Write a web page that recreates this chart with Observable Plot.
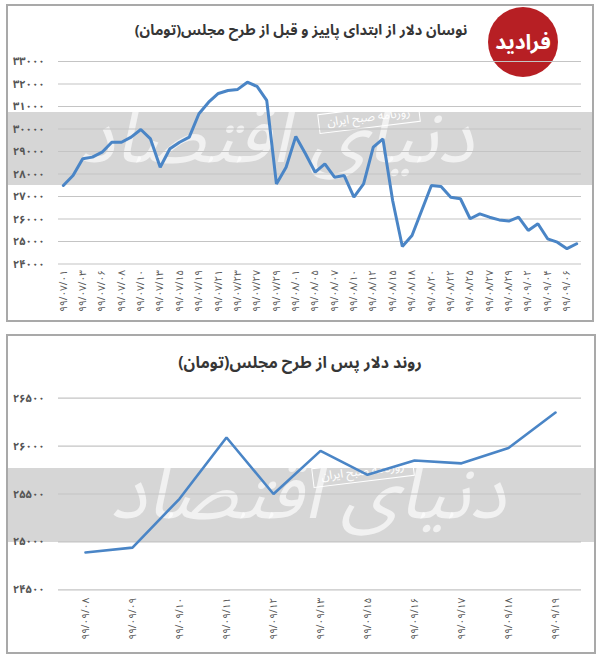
<!DOCTYPE html>
<html><head><meta charset="utf-8">
<script src="https://cdn.jsdelivr.net/npm/d3@7"></script>
<script src="https://cdn.jsdelivr.net/npm/@observablehq/plot@0.6"></script>
<style>
body{margin:0;background:#fff;font-family:"Noto Sans Arabic","DejaVu Sans",sans-serif}
#root{position:relative;width:600px;height:663px;overflow:hidden;background:#fff}
.panel{position:absolute;border:2px solid #a9a9a9;box-sizing:border-box}
.band{position:absolute;background:#d6d6d6}
.wm{position:absolute;color:rgba(255,255,255,0.65);font-weight:normal;font-style:italic;direction:rtl;white-space:nowrap;line-height:1}
.stamp{position:absolute;color:#fff;border:1.5px solid #fff;font-size:12px;padding:1px 8px;direction:rtl;transform:rotate(-7deg);white-space:nowrap;line-height:1.3}
.title{position:absolute;text-align:center;direction:rtl;font-weight:bold;color:#363636;white-space:nowrap;line-height:1.2}
.chart{position:absolute;left:0}
.logo{position:absolute;left:488px;top:7px;width:70px;height:70px;border-radius:50%;background:#b71f24;color:#fff;font-weight:bold;font-size:21px;display:flex;align-items:center;justify-content:center;direction:rtl}
</style></head>
<body>
<div id="root">
  <div class="panel" style="left:6px;top:4px;width:588px;height:318px"></div>
  <div class="band" style="left:8px;top:112px;width:584px;height:73px"></div>
  <div class="wm" style="left:78px;top:100px;font-size:76px">دنیای اقتصاد</div>
  <div class="stamp" style="left:318px;top:108px">روزنامه صبح ایران</div>
  <div class="title" style="left:126px;width:350px;top:22px;font-size:14.5px">نوسان دلار از ابتدای پاییز و قبل از طرح مجلس(تومان)</div>
  <div class="logo">فرادید</div>
  <div id="c1" class="chart" style="top:0px"></div>

  <div class="panel" style="left:6px;top:334px;width:590px;height:320px"></div>
  <div class="band" style="left:8px;top:468px;width:586px;height:74px"></div>
  <div class="wm" style="left:110px;top:456px;font-size:76px">دنیای اقتصاد</div>
  <div class="stamp" style="left:312px;top:462px">روزنامه صبح ایران</div>
  <div class="title" style="left:170px;width:260px;top:354px;font-size:16px">روند دلار پس از طرح مجلس(تومان)</div>
  <div id="c2" class="chart" style="top:334px"></div>
</div>
<script>
const dates1 = ["99/07/01","99/07/02","99/07/03","99/07/05","99/07/06","99/07/07","99/07/08","99/07/09","99/07/10","99/07/12",
  "99/07/13","99/07/14","99/07/15","99/07/16","99/07/19","99/07/20","99/07/21","99/07/22","99/07/23","99/07/24",
  "99/07/27","99/07/28","99/07/29","99/07/30","99/08/01","99/08/03","99/08/05","99/08/06","99/08/07","99/08/08",
  "99/08/10","99/08/11","99/08/12","99/08/14","99/08/15","99/08/17","99/08/18","99/08/19","99/08/20","99/08/21",
  "99/08/22","99/08/24","99/08/25","99/08/26","99/08/27","99/08/28","99/08/29","99/09/01","99/09/02","99/09/03",
  "99/09/04","99/09/05","99/09/06","99/09/08"];
const values1 = [27490,27930,28680,28750,28970,29410,29410,29640,29980,29560,
  28300,29120,29410,29640,30680,31190,31580,31710,31760,32080,
  31890,31270,27560,28300,29670,28900,28080,28450,27860,27930,
  26970,27560,29190,29560,26820,24780,25270,26380,27490,27440,
  26970,26900,26010,26230,26080,25960,25910,26080,25490,25790,
  25120,24970,24680,24900];
const yTicks1 = [24000,25000,26000,27000,28000,29000,30000,31000,32000,33000];

const dates2 = ["99/09/08","99/09/09","99/09/10","99/09/11","99/09/12","99/09/13","99/09/15","99/09/16","99/09/17","99/09/18","99/09/19"];
const values2 = [24890,24940,25450,26090,25500,25950,25700,25850,25820,25980,26350];
const yTicks2 = [24500,25000,25500,26000,26500];

const fa = s => String(s).replace(/\d/g, d => "۰۱۲۳۴۵۶۷۸۹"[d]);
const font = '"Noto Sans Arabic","DejaVu Sans",sans-serif';
const lineColor = "#4a85c6";

function chart({dates, values, yTicks, xTicks, height, mt, mb, tickPad, sw}) {
  const data = dates.map((d, i) => ({d, v: values[i]}));
  return Plot.plot({
    width: 600, height,
    marginLeft: 58, marginRight: 19, marginTop: mt, marginBottom: mb,
    style: {background: "transparent", fontFamily: font, fontSize: "10px", color: "#555", overflow: "visible"},
    x: {type: "point", domain: dates, padding: 0.5, ticks: xTicks, tickFormat: fa, tickRotate: -90, tickSize: 0, tickPadding: tickPad, label: null},
    y: {domain: [yTicks[0], yTicks[yTicks.length - 1]], ticks: yTicks, tickFormat: fa, tickSize: 0, tickPadding: 14, label: null},
    marks: [
      Plot.gridY(yTicks, {stroke: "#c4c4c4", strokeOpacity: 1, strokeWidth: 1.2}),
      Plot.axisY({ticks: yTicks, tickFormat: fa, tickSize: 0, tickPadding: 14, fontWeight: "bold", fontSize: 11, label: null}),
      Plot.axisX({ticks: xTicks, tickFormat: fa, tickRotate: -90, tickSize: 0, tickPadding: tickPad, fontSize: 10, label: null}),
      Plot.line(data, {x: "d", y: "v", stroke: lineColor, strokeWidth: sw, strokeLinejoin: "miter"})
    ]
  });
}

document.getElementById("c1").append(chart({
  dates: dates1, values: values1, yTicks: yTicks1,
  xTicks: dates1.filter((d, i) => i % 2 === 0),
  height: 322, mt: 61, mb: 58.5, tickPad: 6, sw: 3
}));
document.getElementById("c2").append(chart({
  dates: dates2, values: values2, yTicks: yTicks2,
  xTicks: dates2,
  height: 320, mt: 63.7, mb: 64.7, tickPad: 8, sw: 2.6
}));
</script>
</body></html>
